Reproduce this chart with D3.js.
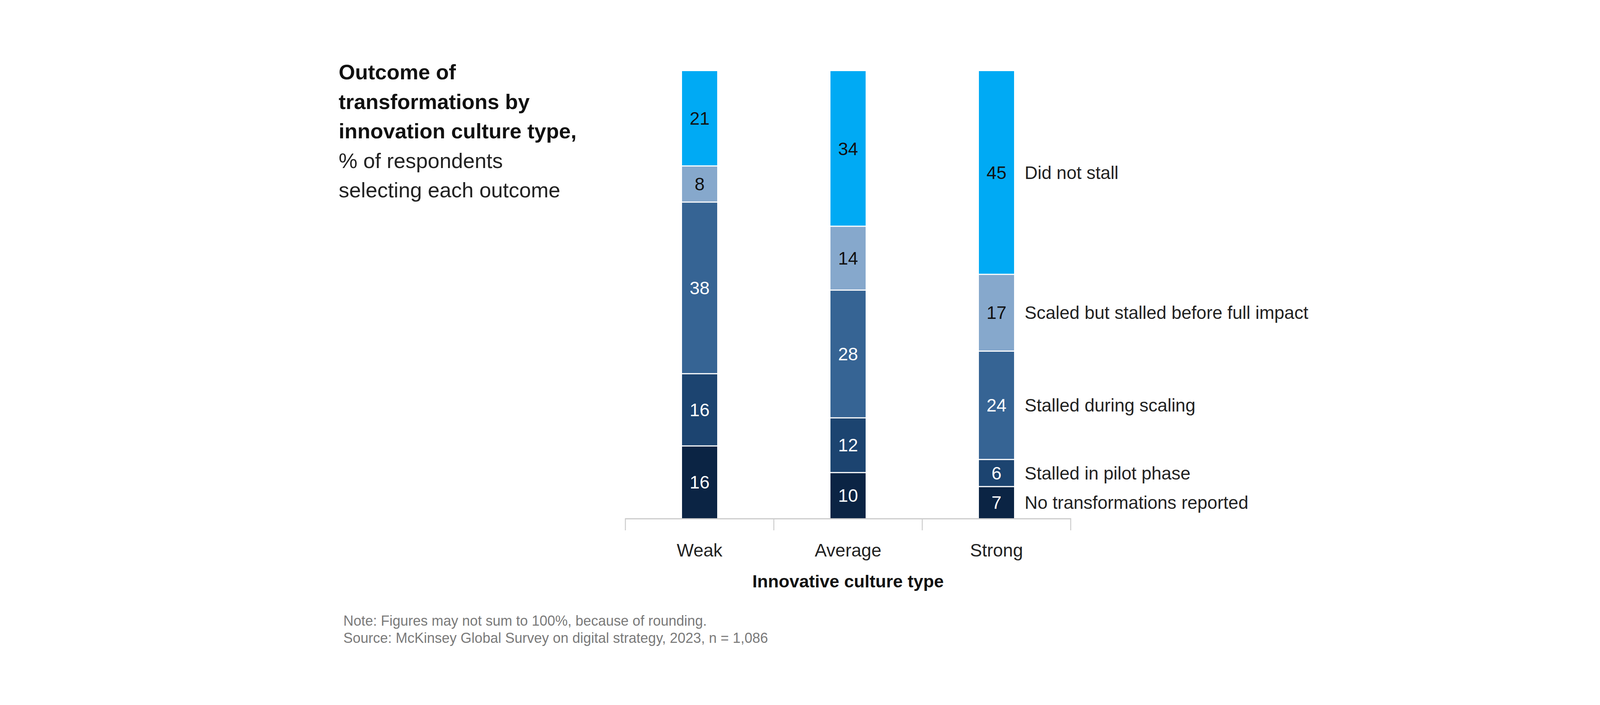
<!DOCTYPE html>
<html>
<head>
<meta charset="utf-8">
<script src="https://cdn.jsdelivr.net/npm/d3@7"></script>
<style>
  html, body { margin: 0; padding: 0; background: #ffffff; }
  svg { display: block; }
  text { font-family: "Liberation Sans", Arial, sans-serif; }
</style>
</head>
<body>
<svg id="chart" width="4322" height="1804"></svg>
<script>
// ---- Data ----
const categories = ["Weak", "Average", "Strong"];
const seriesNames = [
  "No transformations reported",
  "Stalled in pilot phase",
  "Stalled during scaling",
  "Scaled but stalled before full impact",
  "Did not stall"
];
const noTransformations = [16, 10, 7];
const stalledPilot = [16, 12, 6];
const stalledScaling = [38, 28, 24];
const scaledStalled = [8, 14, 17];
const didNotStall = [21, 34, 45];
const seriesColors = ["#0b2444", "#1c4470", "#366494", "#86a8cc", "#00aaf4"];
const labelColors = ["#ffffff", "#ffffff", "#ffffff", "#111111", "#111111"];
const titleBold = ["Outcome of", "transformations by", "innovation culture type,"];
const titleRegular = ["% of respondents", "selecting each outcome"];
const xAxisTitle = "Innovative culture type";
const notes = [
  "Note: Figures may not sum to 100%, because of rounding.",
  "Source: McKinsey Global Survey on digital strategy, 2023, n = 1,086"
];

// ---- Build table ----
const seriesValues = [noTransformations, stalledPilot, stalledScaling, scaledStalled, didNotStall];
const table = categories.map((c, i) => {
  const row = { category: c };
  seriesNames.forEach((s, j) => { row[s] = seriesValues[j][i]; });
  return row;
});

const stack = d3.stack().keys(seriesNames).offset(d3.stackOffsetExpand);
const stacked = stack(table);

const svg = d3.select("#chart");

const x = d3.scaleBand().domain(categories).range([1601, 2741]).padding(0);
const y = d3.scaleLinear().domain([0, 1]).range([1326, 182]);
const barW = 90;
const gap = 3;

// ---- Bars ----
const layers = svg.append("g").selectAll("g")
  .data(stacked).join("g")
  .attr("fill", (d, i) => seriesColors[i]);

layers.selectAll("rect")
  .data((d, i) => d.map(p => ({ p, i, key: d.key })))
  .join("rect")
  .attr("x", d => x(d.p.data.category) + x.bandwidth() / 2 - barW / 2)
  .attr("width", barW)
  .attr("y", d => y(d.p[1]) + (d.i === seriesNames.length - 1 ? 0 : gap / 2))
  .attr("height", d => {
    const top = y(d.p[1]) + (d.i === seriesNames.length - 1 ? 0 : gap / 2);
    const bot = y(d.p[0]) - (d.i === 0 ? 0 : gap / 2);
    return Math.max(0, bot - top);
  });

// ---- Value labels ----
layers.selectAll("text")
  .data((d, i) => d.map(p => ({ p, i, key: d.key })))
  .join("text")
  .attr("x", d => x(d.p.data.category) + x.bandwidth() / 2)
  .attr("y", d => (y(d.p[0]) + y(d.p[1])) / 2)
  .attr("dy", "0.35em")
  .attr("text-anchor", "middle")
  .attr("font-size", 46)
  .attr("fill", d => labelColors[d.i])
  .text(d => d.p.data[d.key]);

// ---- Series labels next to the last bar ----
const lastCat = categories[categories.length - 1];
svg.append("g").selectAll("text")
  .data(stacked).join("text")
  .attr("x", x(lastCat) + x.bandwidth() / 2 + barW / 2 + 27)
  .attr("y", d => {
    const p = d.find(e => e.data.category === lastCat);
    return (y(p[0]) + y(p[1])) / 2;
  })
  .attr("dy", "0.35em")
  .attr("font-size", 46)
  .attr("fill", "#222222")
  .text(d => d.key);

// ---- X axis (ticks at band boundaries) ----
const axisG = svg.append("g");
const [r0, r1] = x.range();
const baseY = y(0);
axisG.append("line")
  .attr("x1", r0).attr("x2", r1)
  .attr("y1", baseY + 1.5).attr("y2", baseY + 1.5)
  .attr("stroke", "#cccccc").attr("stroke-width", 3);
const boundaries = categories.map(c => x(c)).concat([r1]);
axisG.selectAll("line.tick")
  .data(boundaries).join("line")
  .attr("class", "tick")
  .attr("x1", d => d).attr("x2", d => d)
  .attr("y1", baseY).attr("y2", baseY + 31)
  .attr("stroke", "#cccccc").attr("stroke-width", 2.5);
axisG.selectAll("text")
  .data(categories).join("text")
  .attr("x", d => x(d) + x.bandwidth() / 2)
  .attr("y", 1424)
  .attr("text-anchor", "middle")
  .attr("font-size", 46)
  .attr("fill", "#222222")
  .text(d => d);

svg.append("text")
  .attr("x", (r0 + r1) / 2)
  .attr("y", 1503)
  .attr("text-anchor", "middle")
  .attr("font-size", 45)
  .attr("font-weight", "bold")
  .attr("fill", "#111111")
  .text(xAxisTitle);

// ---- Title ----
const titleG = svg.append("g");
titleBold.forEach((t, i) => {
  titleG.append("text")
    .attr("x", 867).attr("y", 203 + i * 75.5)
    .attr("font-size", 54).attr("font-weight", "bold")
    .attr("fill", "#111111").text(t);
});
titleRegular.forEach((t, i) => {
  titleG.append("text")
    .attr("x", 867).attr("y", 203 + (titleBold.length + i) * 75.5)
    .attr("font-size", 54)
    .attr("fill", "#222222").text(t);
});

// ---- Notes ----
notes.forEach((t, i) => {
  svg.append("text")
    .attr("x", 879).attr("y", 1601 + i * 44)
    .attr("font-size", 36)
    .attr("fill", "#7a7a7a").text(t);
});
</script>
</body>
</html>
